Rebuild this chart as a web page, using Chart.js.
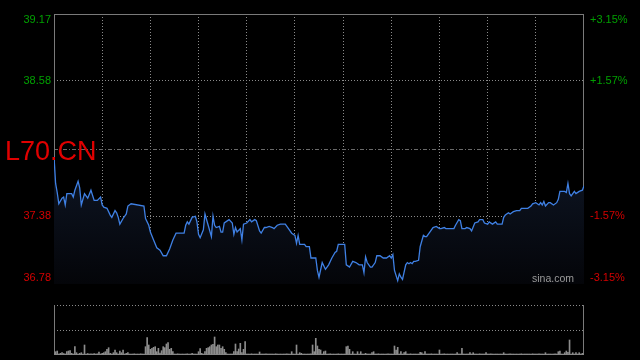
<!DOCTYPE html>
<html>
<head>
<meta charset="utf-8">
<script src="https://cdn.jsdelivr.net/npm/chart.js@4.4.1/dist/chart.umd.min.js"></script>
<style>
  html, body { margin: 0; padding: 0; background: #000; }
  #wrap { position: relative; width: 640px; height: 360px; overflow: hidden; }
  #priceBox { position: absolute; left: 0; top: 0; width: 640px; height: 290px; }
  #volBox { position: absolute; left: 0; top: 290px; width: 640px; height: 70px; }
</style>
</head>
<body>
<div id="wrap">
  <div id="priceBox"><canvas id="priceChart"></canvas></div>
  <div id="volBox"><canvas id="volChart"></canvas></div>
</div>
<script>
const symbol = "L70.CN";
const prevClose = 37.975;
const priceTicks = [39.17, 38.58, 37.38, 36.78];
const pctTicks = ["+3.15%", "+1.57%", "-1.57%", "-3.15%"];

// minute of session (0..330) and last price
const minutes = [
  0, 1, 2, 3, 5, 6, 7, 8, 9, 11,
  12, 13, 15, 16, 17, 19, 21, 23, 25, 27,
  29, 30, 31, 33, 35, 36, 38, 39, 40, 41,
  43, 45, 46, 48, 56, 57, 59, 60, 62, 64,
  66, 68, 70, 72, 74, 76, 81, 82, 83, 84,
  86, 88, 89, 90, 91, 93, 94, 96, 98, 99,
  100, 101, 103, 104, 105, 106, 109, 111, 112, 113,
  114, 116, 117, 118, 120, 122, 123, 125, 126, 128,
  129, 131, 132, 134, 136, 137, 139, 141, 144, 146,
  148, 150, 151, 152, 153, 156, 157, 159, 160, 163,
  164, 165, 167, 169, 171, 173, 175, 176, 177, 181,
  182, 184, 186, 188, 190, 192, 193, 194, 195, 197,
  198, 200, 201, 203, 205, 207, 209, 210, 211, 212,
  214, 215, 216, 217, 219, 220, 221, 222, 223, 224,
  225, 227, 228, 230, 231, 232, 234, 236, 238, 240,
  241, 243, 244, 246, 249, 250, 252, 253, 254, 256,
  257, 259, 260, 262, 264, 265, 267, 268, 270, 271,
  273, 275, 276, 279, 280, 281, 283, 284, 286, 288,
  290, 291, 295, 297, 298, 300, 302, 303, 304, 305,
  306, 308, 309, 311, 313, 314, 315, 318, 319, 320,
  321, 322, 324, 325, 327, 329, 330
];
const prices = [
  37.91, 37.67, 37.59, 37.49, 37.54, 37.55, 37.48, 37.58, 37.58, 37.58,
  37.55, 37.61, 37.69, 37.63, 37.48, 37.58, 37.54, 37.61, 37.52, 37.52,
  37.55, 37.48, 37.46, 37.45, 37.39, 37.37, 37.43, 37.41, 37.37, 37.31,
  37.36, 37.40, 37.47, 37.49, 37.47, 37.36, 37.30, 37.24, 37.17, 37.10,
  37.08, 37.03, 37.03, 37.09, 37.17, 37.23, 37.23, 37.30, 37.33, 37.31,
  37.37, 37.38, 37.33, 37.22, 37.19, 37.26, 37.40, 37.30, 37.20, 37.38,
  37.30, 37.28, 37.29, 37.24, 37.24, 37.32, 37.35, 37.32, 37.22, 37.28,
  37.24, 37.27, 37.17, 37.31, 37.32, 37.35, 37.33, 37.35, 37.34, 37.25,
  37.23, 37.28, 37.28, 37.29, 37.28, 37.27, 37.30, 37.31, 37.31, 37.27,
  37.23, 37.21, 37.14, 37.21, 37.13, 37.13, 37.11, 37.11, 37.01, 37.01,
  36.90, 36.84, 36.97, 36.91, 36.95, 37.01, 37.06, 37.07, 37.13, 37.13,
  36.95, 36.93, 36.98, 36.97, 36.95, 36.95, 36.88, 37.02, 36.97, 36.93,
  36.93, 36.97, 37.03, 37.03, 37.01, 37.01, 37.03, 37.01, 37.04, 36.90,
  36.81, 36.87, 36.84, 36.82, 36.95, 36.97, 36.96, 36.97, 36.96, 36.98,
  36.98, 36.99, 37.11, 37.21, 37.20, 37.20, 37.24, 37.28, 37.29, 37.27,
  37.27, 37.28, 37.27, 37.27, 37.27, 37.30, 37.35, 37.34, 37.27, 37.27,
  37.28, 37.27, 37.25, 37.32, 37.33, 37.35, 37.35, 37.32, 37.31, 37.33,
  37.31, 37.33, 37.31, 37.31, 37.37, 37.39, 37.41, 37.40, 37.42, 37.43,
  37.43, 37.45, 37.45, 37.47, 37.49, 37.50, 37.48, 37.50, 37.48, 37.51,
  37.47, 37.50, 37.50, 37.48, 37.50, 37.53, 37.60, 37.60, 37.59, 37.67,
  37.58, 37.56, 37.60, 37.58, 37.60, 37.61, 37.65
];

// volume per minute, 0..330
const volume = [
  150, 330, 400, 100, 170, 230, 150, 100, 330, 400, 430, 170, 100, 830, 230, 100, 170, 230, 100, 1000, 100, 150, 100, 120, 100, 150, 100, 120, 300, 100,
  170, 230, 330, 570, 730, 170, 100, 230, 500, 230, 100, 400, 230, 500, 100, 170, 230, 100, 100, 100, 120, 100, 100, 100, 120, 100, 100, 830, 1730, 1000,
  570, 670, 770, 830, 330, 670, 200, 430, 830, 730, 1100, 1230, 570, 670, 330, 100, 100, 120, 100, 100, 100, 100, 100, 120, 100, 100, 170, 100, 100, 100,
  330, 630, 170, 100, 330, 670, 730, 830, 1000, 1070, 1800, 830, 1000, 1000, 670, 830, 570, 230, 100, 100, 100, 100, 330, 1100, 330, 600, 1170, 230, 570, 1330,
  100, 100, 100, 120, 100, 100, 100, 100, 300, 100, 100, 100, 120, 100, 100, 100, 100, 100, 120, 100, 100, 100, 100, 100, 100, 120, 100, 100, 330, 100,
  100, 1000, 100, 230, 170, 100, 100, 100, 100, 100, 120, 1000, 330, 1670, 900, 570, 500, 100, 330, 400, 100, 100, 120, 100, 100, 100, 100, 120, 100, 100,
  100, 100, 830, 900, 570, 100, 330, 100, 100, 330, 100, 330, 100, 100, 170, 100, 100, 100, 230, 330, 100, 100, 120, 100, 100, 100, 100, 100, 120, 100,
  100, 100, 900, 500, 770, 100, 330, 100, 230, 330, 100, 100, 120, 100, 100, 100, 100, 100, 270, 230, 100, 330, 100, 100, 100, 120, 100, 100, 100, 100,
  500, 100, 100, 120, 100, 100, 100, 100, 100, 100, 100, 230, 100, 100, 670, 100, 100, 100, 100, 230, 100, 230, 100, 100, 100, 120, 100, 100, 100, 230,
  100, 100, 120, 100, 100, 100, 100, 100, 100, 100, 230, 100, 100, 100, 120, 100, 100, 100, 100, 100, 100, 120, 100, 100, 100, 100, 100, 100, 120, 100,
  100, 100, 120, 100, 100, 100, 230, 100, 100, 100, 100, 100, 120, 100, 330, 400, 100, 100, 230, 400, 270, 1500, 100, 230, 100, 230, 100, 230, 100, 170,
  100
];

const FONT = 'Arial, "Liberation Sans", sans-serif';
const GRID = "#8a8a8a";
const FRAME = "#7a7a7a";

// solid frame around the plot area
const framePlugin = {
  id: "frame",
  beforeDatasetsDraw(chart, args, opts) {
    const { ctx, chartArea: a } = chart;
    ctx.save();
    ctx.strokeStyle = FRAME;
    ctx.lineWidth = 1;
    ctx.beginPath();
    if (opts.top) {
      ctx.moveTo(a.left, a.top + 0.5);
      ctx.lineTo(a.right, a.top + 0.5);
    }
    ctx.moveTo(a.left + 0.5, a.top);
    ctx.lineTo(a.left + 0.5, a.bottom);
    ctx.moveTo(a.right - 0.5, a.top);
    ctx.lineTo(a.right - 0.5, a.bottom);
    ctx.moveTo(a.left, a.bottom - 0.5);
    ctx.lineTo(a.right, a.bottom - 0.5);
    ctx.stroke();
    ctx.restore();
  }
};

// price / percent labels, symbol and watermark
const labelPlugin = {
  id: "sideLabels",
  afterDraw(chart) {
    const { ctx, chartArea: a, scales: { y } } = chart;
    ctx.save();
    ctx.font = "11px " + FONT;
    ctx.textBaseline = "middle";
    priceTicks.forEach((v, i) => {
      let py = y.getPixelForValue(v);
      py = Math.min(Math.max(py, a.top + 6), a.bottom - 6);
      ctx.fillStyle = v > prevClose ? "#00a000" : "#d40000";
      ctx.textAlign = "right";
      ctx.fillText(v.toFixed(2), a.left - 3, py);
      ctx.textAlign = "left";
      ctx.fillText(pctTicks[i], a.right + 6, py);
    });

    ctx.textBaseline = "alphabetic";
    ctx.fillStyle = "#9a9a9a";
    ctx.font = "10.5px " + FONT;
    ctx.textAlign = "left";
    ctx.fillText("sina.com", a.right - 52, a.bottom - 2);

    ctx.fillStyle = "#e00000";
    ctx.font = "27px " + FONT;
    ctx.fillText(symbol, 5, y.getPixelForValue(prevClose) + 11);
    ctx.restore();
  }
};

const priceCtx = document.getElementById("priceChart").getContext("2d");
new Chart(priceCtx, {
  type: "line",
  data: {
    datasets: [{
      data: minutes.map((m, i) => ({ x: m, y: prices[i] })),
      borderColor: "#3f80e4",
      borderWidth: 1.3,
      pointRadius: 0,
      tension: 0,
      fill: "start",
      backgroundColor: (c) => {
        const a = c.chart.chartArea;
        if (!a) return "rgba(0,0,0,0)";
        const g = c.chart.ctx.createLinearGradient(0, a.top, 0, a.bottom);
        g.addColorStop(0, "#1a2944");
        g.addColorStop(1, "#040509");
        return g;
      }
    }]
  },
  options: {
    responsive: true,
    maintainAspectRatio: false,
    animation: false,
    layout: { padding: { left: 54, right: 56, top: 14, bottom: 6 } },
    plugins: { legend: { display: false }, tooltip: { enabled: false }, frame: { top: true } },
    scales: {
      x: {
        type: "linear",
        min: 0,
        max: 330,
        ticks: { display: false, stepSize: 30 },
        grid: {
          drawTicks: false,
          color: (c) => (c.tick && (c.tick.value === 0 || c.tick.value === 330)) ? "rgba(0,0,0,0)" : GRID
        },
        border: { display: false, dash: [1, 2] },
        afterFit: (s) => { s.height = 0; }
      },
      y: {
        min: 36.78,
        max: 39.17,
        afterBuildTicks: (s) => {
          s.ticks = [36.78, 37.38, prevClose, 38.58, 39.17].map(v => ({ value: v }));
        },
        ticks: { display: false },
        grid: {
          drawTicks: false,
          color: (c) => {
            if (!c.tick) return GRID;
            if (c.tick.value === 36.78 || c.tick.value === 39.17) return "rgba(0,0,0,0)";
            return c.tick.value === prevClose ? "#6a6a6a" : GRID;
          }
        },
        border: {
          display: false,
          dash: (c) => (c.tick && c.tick.value === prevClose) ? [4, 2, 1, 2] : [1, 2]
        },
        afterFit: (s) => { s.width = 0; }
      }
    }
  },
  plugins: [framePlugin, labelPlugin]
});

const volCtx = document.getElementById("volChart").getContext("2d");
new Chart(volCtx, {
  type: "bar",
  data: {
    datasets: [{
      data: volume.map((v, i) => ({ x: i, y: v })),
      backgroundColor: "#8c8c8c",
      barThickness: 1
    }]
  },
  options: {
    responsive: true,
    maintainAspectRatio: false,
    animation: false,
    layout: { padding: { left: 54, right: 56, top: 15, bottom: 5 } },
    plugins: { legend: { display: false }, tooltip: { enabled: false }, frame: { top: false } },
    scales: {
      x: {
        type: "linear",
        offset: false,
        min: 0,
        max: 330,
        ticks: { display: false },
        grid: { display: false, offset: false },
        border: { display: false },
        afterFit: (s) => { s.height = 0; }
      },
      y: {
        min: 0,
        max: 5000,
        ticks: { display: false, stepSize: 2500 },
        grid: {
          drawTicks: false,
          color: (c) => (c.tick && c.tick.value === 0) ? "rgba(0,0,0,0)" : GRID
        },
        border: { display: false, dash: [1, 2] },
        afterFit: (s) => { s.width = 0; }
      }
    }
  },
  plugins: [framePlugin]
});
</script>
</body>
</html>
